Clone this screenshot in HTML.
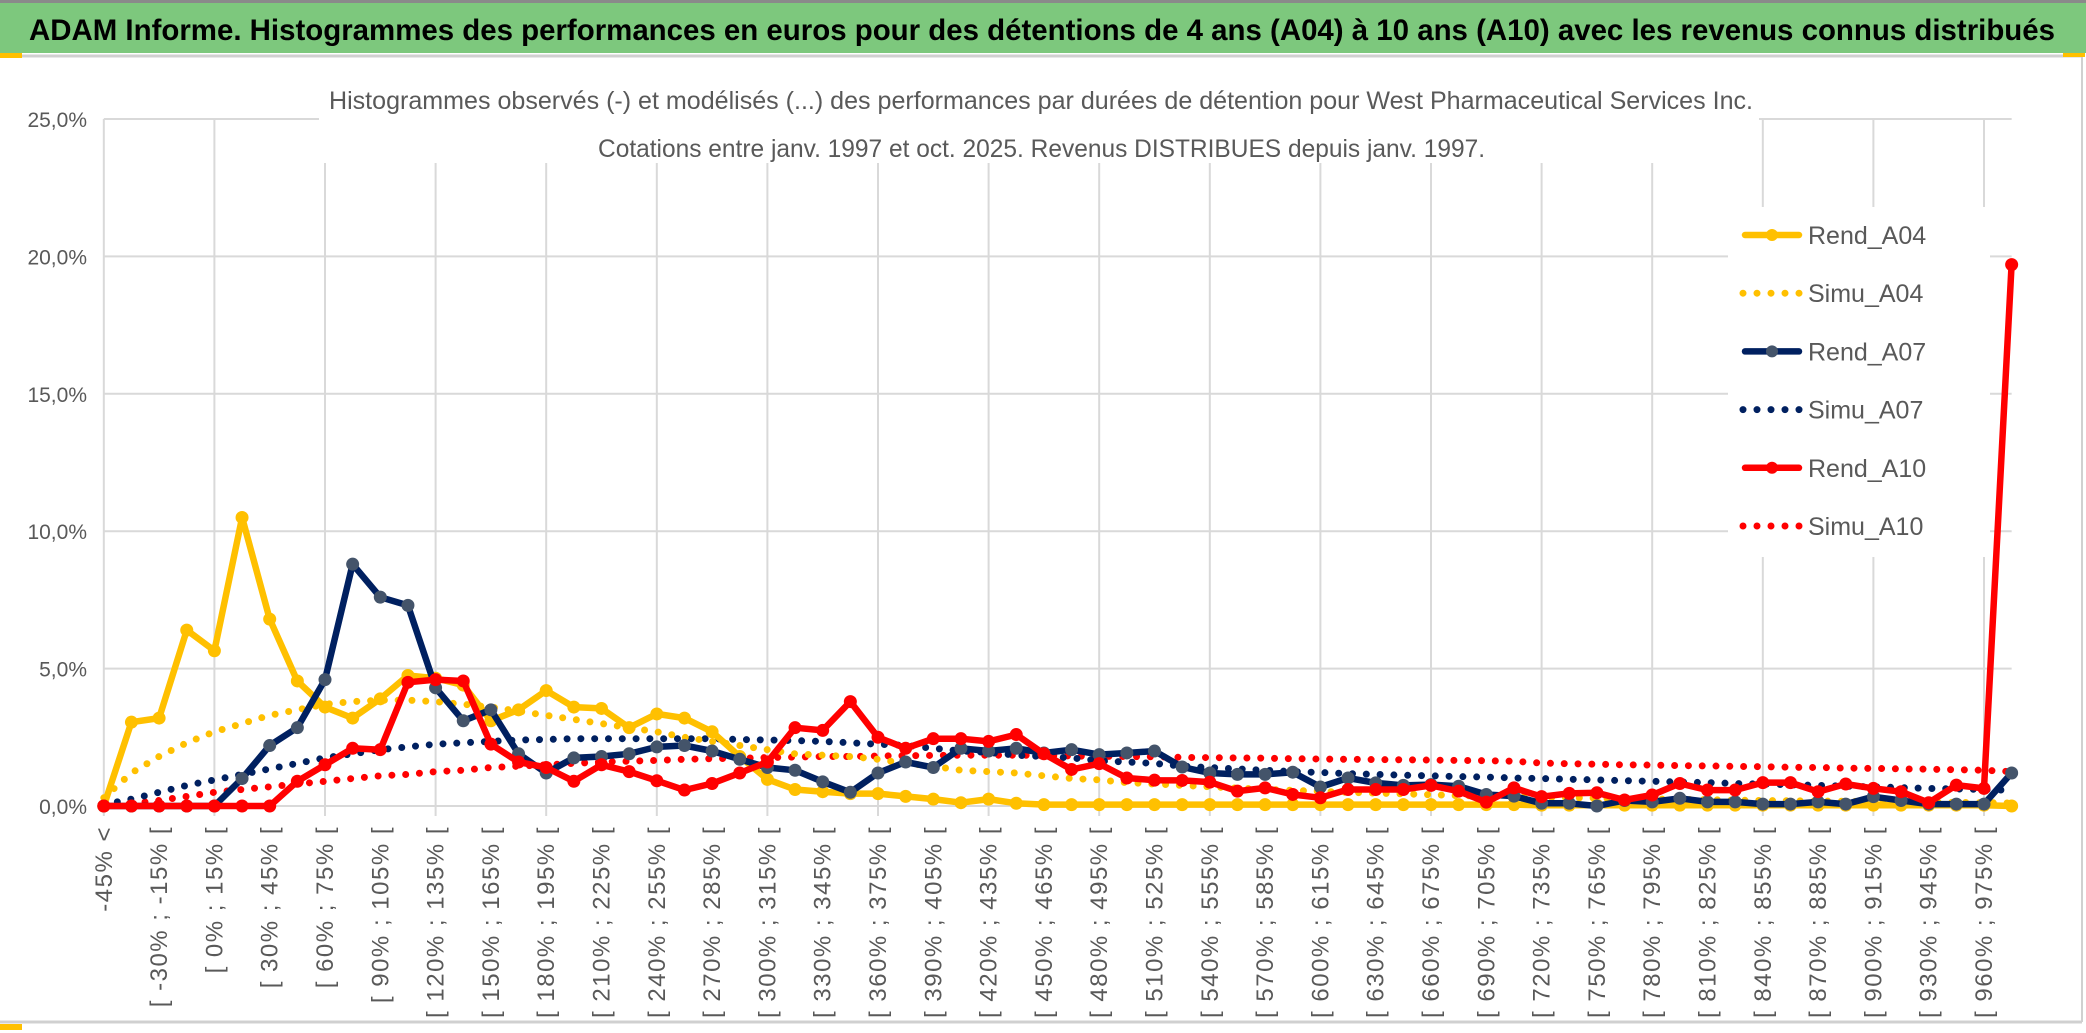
<!DOCTYPE html>
<html><head><meta charset="utf-8"><style>
html,body{margin:0;padding:0;background:#fff;}
svg{display:block;font-family:"Liberation Sans",sans-serif;}
</style></head><body>
<svg id="chart" width="2086" height="1033" viewBox="0 0 2086 1033" xmlns="http://www.w3.org/2000/svg">
<rect x="0" y="0" width="2086" height="1033" fill="#fff"/>
<rect x="0" y="3" width="2086" height="50" fill="#7dc87d"/>
<line x1="0" y1="1.5" x2="2086" y2="1.5" stroke="#8a8a8a" stroke-width="3"/>
<line x1="0" y1="56" x2="2082" y2="56" stroke="#d0d0d0" stroke-width="3"/>
<line x1="2082" y1="56" x2="2082" y2="1022" stroke="#d0d0d0" stroke-width="2"/>
<line x1="0" y1="1022" x2="2082" y2="1022" stroke="#d0d0d0" stroke-width="3"/>
<rect x="0" y="53" width="22" height="5" fill="#ffc000"/>
<rect x="0" y="1024" width="22" height="6" fill="#ffc000"/>
<rect x="2063" y="53" width="22" height="4" fill="#ffc000"/>
<text x="29" y="40" font-size="30" font-weight="bold" fill="#000" textLength="2026" lengthAdjust="spacingAndGlyphs">ADAM Informe. Histogrammes des performances en euros pour des détentions de 4 ans (A04) à 10 ans (A10) avec les revenus connus distribués</text>
<g id="grid"></g>
<rect x="319" y="60" width="1440" height="103" fill="#fff"/>
<text x="329" y="109" font-size="25" fill="#595959" textLength="1424" lengthAdjust="spacingAndGlyphs">Histogrammes observés (-) et modélisés (...) des performances par durées de détention pour West Pharmaceutical Services Inc.</text>
<text x="598" y="157" font-size="25" fill="#595959" textLength="887" lengthAdjust="spacingAndGlyphs">Cotations entre janv. 1997 et oct. 2025. Revenus DISTRIBUES depuis janv. 1997.</text>
<g id="yaxis"></g>
<g id="xaxis"></g>
<g id="series"></g>
<g id="legend"></g>
</svg>
<script>
const rendA04 = [0,3.05,3.2,6.4,5.65,10.5,6.8,4.55,3.6,3.2,3.9,4.75,4.65,4.4,3.1,3.5,4.2,3.6,3.55,2.85,3.35,3.2,2.7,1.8,0.97,0.6,0.52,0.45,0.45,0.35,0.25,0.12,0.25,0.1,0.05,0.05,0.05,0.05,0.05,0.05,0.05,0.05,0.05,0.05,0.05,0.05,0.05,0.05,0.05,0.05,0.05,0.05,0.03,0.03,0.03,0.03,0.03,0.03,0.03,0.03,0.03,0.03,0.03,0.03,0.03,0.03,0.03,0.03,0.03,0];
const simuA04 = [0.3,1.2,1.8,2.3,2.7,3.0,3.3,3.5,3.7,3.8,3.85,3.85,3.8,3.7,3.6,3.45,3.3,3.15,3.0,2.85,2.7,2.5,2.35,2.2,2.05,1.9,1.85,1.8,1.7,1.55,1.45,1.3,1.25,1.2,1.1,1.0,0.95,0.85,0.8,0.75,0.7,0.65,0.6,0.57,0.53,0.5,0.47,0.44,0.41,0.38,0.36,0.34,0.32,0.3,0.29,0.27,0.26,0.24,0.23,0.21,0.2,0.19,0.18,0.17,0.16,0.15,0.14,0.13,0.12,0.11];
const rendA07 = [0,0,0,0,0,1.0,2.2,2.85,4.6,8.8,7.6,7.3,4.3,3.1,3.5,1.9,1.2,1.75,1.8,1.9,2.15,2.2,2.0,1.7,1.4,1.3,0.88,0.5,1.2,1.6,1.4,2.1,2.0,2.1,1.93,2.05,1.87,1.93,2.0,1.42,1.2,1.15,1.15,1.23,0.69,1.02,0.84,0.75,0.78,0.72,0.42,0.36,0.1,0.1,0,0.2,0.15,0.28,0.15,0.15,0.07,0.07,0.15,0.07,0.34,0.2,0.07,0.07,0.07,1.2];
const simuA07 = [0.05,0.25,0.5,0.75,0.95,1.15,1.35,1.55,1.75,1.9,2.05,2.15,2.25,2.3,2.35,2.4,2.42,2.45,2.45,2.45,2.45,2.45,2.45,2.42,2.4,2.38,2.35,2.3,2.25,2.2,2.1,2.0,1.95,1.85,1.8,1.75,1.65,1.6,1.55,1.45,1.4,1.35,1.3,1.25,1.22,1.18,1.15,1.12,1.1,1.07,1.05,1.02,1.0,0.97,0.95,0.92,0.9,0.87,0.85,0.82,0.8,0.77,0.75,0.72,0.7,0.67,0.64,0.62,0.6,0.57];
const rendA10 = [0,0,0,0,0,0,0,0.9,1.5,2.1,2.05,4.5,4.6,4.55,2.25,1.6,1.4,0.9,1.5,1.25,0.92,0.58,0.82,1.2,1.6,2.85,2.75,3.8,2.5,2.1,2.45,2.45,2.35,2.6,1.9,1.33,1.54,1.02,0.94,0.93,0.87,0.54,0.66,0.42,0.3,0.6,0.6,0.6,0.75,0.54,0.14,0.66,0.34,0.46,0.48,0.22,0.4,0.82,0.58,0.58,0.85,0.85,0.52,0.8,0.64,0.52,0.12,0.76,0.64,19.7];
const simuA10 = [0,0.1,0.2,0.35,0.5,0.6,0.7,0.8,0.9,1.0,1.1,1.15,1.25,1.3,1.4,1.45,1.5,1.55,1.6,1.63,1.66,1.7,1.72,1.74,1.76,1.78,1.8,1.8,1.82,1.83,1.84,1.85,1.85,1.85,1.84,1.82,1.81,1.8,1.79,1.77,1.76,1.75,1.74,1.72,1.71,1.7,1.69,1.68,1.67,1.66,1.65,1.63,1.56,1.54,1.52,1.5,1.49,1.47,1.46,1.44,1.43,1.41,1.4,1.38,1.37,1.35,1.34,1.32,1.3,1.25];
const yTicks = [0,5,10,15,20,25];
const yTickLabels = ["0,0%","5,0%","10,0%","15,0%","20,0%","25,0%"];
const categoryCount = 70;
const categoryLabels = [];
for (let i = 0; i < categoryCount; i++) {
  if (i === 0) categoryLabels.push("-45% <");
  else { const lo = -45 + 15 * (i - 1); categoryLabels.push("[ " + lo + "% ; " + (lo + 15) + "% ["); }
}
const seriesNames = ["Rend_A04","Simu_A04","Rend_A07","Simu_A07","Rend_A10","Simu_A10"];

const NS = "http://www.w3.org/2000/svg";
const X0 = 103.8, STEP = 27.65, Y0 = 806, YPER = 137.4/5;
function xScale(i){ return X0 + i * STEP; }
function yScale(v){ return Y0 - v * YPER; }
function mk(tag, attrs, parent){ const e = document.createElementNS(NS, tag); for (const k in attrs) e.setAttribute(k, attrs[k]); parent.appendChild(e); return e; }

const grid = document.getElementById("grid");
yTicks.forEach(function(t){
  const l = mk("line", {x1: xScale(0), x2: xScale(categoryCount-1), y1: yScale(t), y2: yScale(t), stroke: "#d9d9d9", "stroke-width": 2}, grid);
  
  
});
for (let i = 0; i < categoryCount; i += 4) {
  const l = mk("line", {x1: xScale(i), x2: xScale(i), y1: yScale(25), y2: Y0 + 10, stroke: "#d9d9d9", "stroke-width": 2}, grid);
  
  
}

const yaxis = document.getElementById("yaxis");
yTicks.forEach(function(t, k){
  const tx = mk("text", {x: 87, y: yScale(t) + 8, "text-anchor": "end", "font-size": 21, fill: "#595959"}, yaxis);
  tx.textContent = yTickLabels[k];
  
  
});

const xaxis = document.getElementById("xaxis");
for (let i = 0; i < categoryCount; i += 2) {
  const x = xScale(i) + 8, y = 826;
  const tx = mk("text", {x: x, y: y, "text-anchor": "end", "font-size": 24, "letter-spacing": 1.5, fill: "#595959", transform: "rotate(-90 " + x + " " + y + ")"}, xaxis);
  tx.textContent = categoryLabels[i];
  
  
}

const series = document.getElementById("series");
function drawSeries(vals, color, dotted, markerFill, name){
  const g = mk("g", {}, series);
  
  
  const pts = vals.map(function(v, i){ return xScale(i).toFixed(1) + "," + yScale(v).toFixed(1); }).join(" ");
  const attrs = {points: pts, fill: "none", stroke: color, "stroke-linejoin": "round", "stroke-linecap": "round"};
  if (dotted) { attrs["stroke-width"] = 7; attrs["stroke-dasharray"] = "0 13.8"; }
  else { attrs["stroke-width"] = 6.5; }
  const pl = mk("polyline", attrs, g);
  
  
  if (!dotted) {
    vals.forEach(function(v, i){
      const c = mk("circle", {cx: xScale(i), cy: yScale(v), r: 6.5, fill: markerFill}, g);
      
      
    });
  }
}
drawSeries(simuA10, "#ff0000", true, null, "simu-a10");
drawSeries(simuA07, "#002060", true, null, "simu-a07");
drawSeries(simuA04, "#ffc000", true, null, "simu-a04");
drawSeries(rendA04, "#ffc000", false, "#ffc000", "rend-a04");
drawSeries(rendA07, "#002060", false, "#44546a", "rend-a07");
drawSeries(rendA10, "#ff0000", false, "#ff0000", "rend-a10");

const legend = document.getElementById("legend");
mk("rect", {x: 1728, y: 207, width: 262, height: 350, fill: "#fff"}, legend);
const legColors = ["#ffc000","#ffc000","#002060","#002060","#ff0000","#ff0000"];
const legMarker = ["#ffc000",null,"#44546a",null,"#ff0000",null];
seriesNames.forEach(function(n, k){
  const y = 235 + k * 58.2;
  const g = mk("g", {}, legend);
  
  
  if (k % 2 === 0) {
    mk("line", {x1: 1745, x2: 1799, y1: y, y2: y, stroke: legColors[k], "stroke-width": 6.5, "stroke-linecap": "round"}, g);
    mk("circle", {cx: 1772, cy: y, r: 6, fill: legMarker[k]}, g);
  } else {
    mk("line", {x1: 1743, x2: 1800, y1: y, y2: y, stroke: legColors[k], "stroke-width": 7, "stroke-linecap": "round", "stroke-dasharray": "0 14"}, g);
  }
  const t = mk("text", {x: 1808, y: y + 9, "font-size": 25, fill: "#595959"}, g);
  t.textContent = n;
});
</script>
</body></html>
